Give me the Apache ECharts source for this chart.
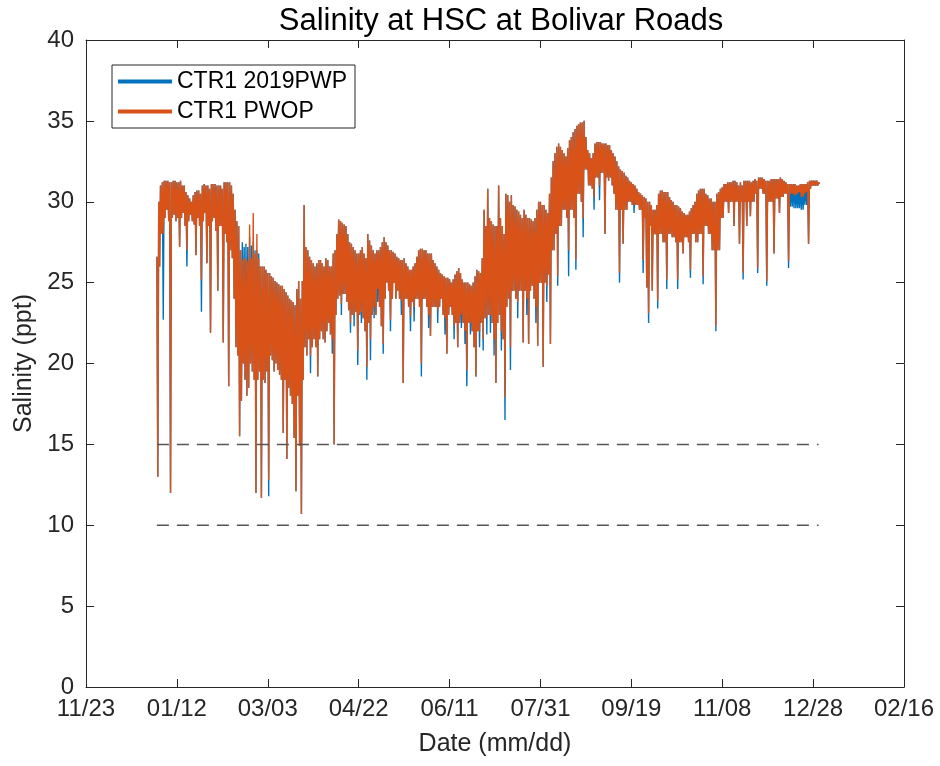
<!DOCTYPE html>
<html>
<head>
<meta charset="utf-8">
<script src="https://cdn.jsdelivr.net/npm/echarts@6/dist/echarts.min.js"></script>
<style>
  html, body { margin: 0; padding: 0; background: #fff; }
  #chart { width: 940px; height: 766px; }
</style>
</head>
<body>
<div id="chart"></div>
<script>
// x axis: days counted from 11/23 (2018); ticks every 50 days
const xTickLabels = ['11/23','01/12','03/03','04/22','06/11','07/31','09/19','11/08','12/28','02/16'];
const yTickValues = [0, 5, 10, 15, 20, 25, 30, 35, 40];
const firstDay = 39;   // 01/01 as day offset from 11/23
const lastDay = 403;   // 12/31
const thresholdLevels = [15, 10];
const seriesNames = ['CTR1 2019PWP', 'CTR1 PWOP'];

// daily high-tide / low-tide salinity readings (ppt), 01/01 .. 12/31
const pwopHigh = [
  26.6, 30.0, 31.0, 31.2, 31.3, 31.3, 31.3, 31.2, 31.2, 31.3,
  31.3, 31.2, 31.2, 31.3, 31.0, 31.0, 30.6, 30.4, 30.2, 30.0,
  30.4, 30.6, 30.7, 30.7, 30.5, 31.0, 31.1, 31.0, 31.0, 30.8,
  31.1, 31.1, 31.1, 31.0, 31.0, 31.0, 30.8, 31.2, 31.2, 31.2,
  31.2, 31.0, 30.5, 29.5, 28.8, 28.5, 27.0, 26.4, 26.5, 26.5,
  26.3, 28.6, 26.5, 29.3, 26.8, 28.0, 26.5, 26.0, 26.0, 26.0,
  25.8, 25.6, 25.6, 25.4, 25.3, 25.1, 25.0, 24.9, 24.8, 24.8,
  24.6, 24.4, 24.2, 24.0, 23.9, 23.8, 23.6, 24.6, 25.1, 24.0,
  25.1, 29.8, 27.2, 27.0, 26.6, 26.4, 26.2, 26.0, 26.2, 26.4,
  26.4, 26.2, 26.0, 26.5, 26.4, 26.0, 26.0, 26.8, 27.0, 28.0,
  28.9, 28.8, 28.7, 28.6, 28.5, 28.0, 27.5, 27.4, 27.2, 27.0,
  26.8, 26.8, 27.0, 27.2, 26.8, 26.5, 28.0, 27.6, 27.3, 27.0,
  26.8, 27.0, 27.0, 27.2, 27.5, 27.8, 27.5, 27.3, 27.0, 27.0,
  26.9, 26.8, 26.6, 26.5, 26.4, 26.4, 26.5, 26.2, 26.0, 25.8,
  25.8, 26.0, 26.2, 26.6, 27.0, 27.1, 27.1, 27.0, 27.0, 26.8,
  26.8, 26.8, 26.4, 26.2, 26.0, 25.8, 25.6, 25.5, 25.4, 25.3,
  25.3, 25.2, 25.0, 25.2, 25.5, 25.7, 25.9, 25.6, 25.2, 25.0,
  25.0, 25.0, 24.9, 24.8, 25.0, 25.4, 25.8, 25.7, 25.6, 26.5,
  29.5, 28.5, 30.8, 29.0, 28.8, 28.6, 28.5, 28.5, 31.0, 29.0,
  28.5, 28.0, 30.5, 30.4, 30.0, 30.4, 29.8, 29.7, 29.5, 29.4,
  29.2, 29.0, 29.5, 29.2, 29.0, 29.0, 28.9, 28.8, 29.0, 29.5,
  30.0, 30.0, 29.8, 29.8, 29.5, 29.3, 30.5, 31.5, 32.5, 33.0,
  33.4, 33.6, 33.4, 33.2, 33.0, 32.8, 33.3, 33.8, 34.0, 34.3,
  34.5, 34.7, 34.8, 34.9, 34.9, 35.0, 34.0, 33.2, 33.0, 32.7,
  33.0, 33.6, 33.7, 33.7, 33.7, 33.6, 33.6, 33.6, 33.5, 33.5,
  33.2, 33.0, 32.8, 32.5, 32.2, 32.0, 31.9, 31.8, 31.6, 31.5,
  31.3, 31.2, 31.1, 31.0, 30.8, 30.6, 30.5, 30.4, 30.3, 30.2,
  30.0, 30.0, 29.8, 29.5, 29.5, 29.8, 30.5, 30.7, 30.7, 30.6,
  30.6, 30.6, 30.3, 30.1, 30.0, 29.8, 29.8, 29.7, 29.6, 29.4,
  29.3, 29.2, 29.2, 29.4, 29.6, 29.8, 30.0, 30.5, 30.7, 30.8,
  30.8, 30.8, 30.5, 30.4, 30.2, 30.2, 30.0, 30.0, 30.5, 30.6,
  30.8, 30.9, 31.1, 31.1, 31.2, 31.2, 31.2, 31.3, 31.3, 31.2,
  31.0, 31.2, 31.0, 31.3, 31.3, 31.3, 31.3, 31.2, 31.3, 31.4,
  31.3, 31.5, 31.5, 31.5, 31.4, 31.3, 31.3, 31.3, 31.4, 31.4,
  31.4, 31.4, 31.4, 31.5, 31.4, 31.3, 31.2, 31.1, 31.1, 31.1,
  31.1, 31.1, 31.0, 31.0, 31.1, 31.1, 31.1, 31.1, 31.2, 31.3,
  31.3, 31.3, 31.3, 31.3, 31.2
];
const pwopLow = [
  13.0, 26.0, 28.0, 28.0, 29.0, 29.5, 28.8, 12.0, 29.0, 29.2,
  28.8, 29.0, 27.2, 29.0, 29.3, 28.5, 27.0, 28.8, 29.2, 28.8,
  28.6, 26.7, 29.0, 28.5, 25.2, 28.8, 29.3, 26.2, 28.5, 21.9,
  28.8, 29.0, 28.2, 24.5, 28.5, 28.5, 21.3, 28.0, 27.5, 18.6,
  27.0, 26.5, 24.0, 21.0, 20.5, 15.5, 17.7, 20.0, 19.0, 18.0,
  18.5, 20.0, 19.5, 19.0, 12.0, 19.0, 19.5, 11.7, 19.0, 18.8,
  19.5, 12.8, 20.5, 20.2, 19.5, 20.0, 19.6, 19.3, 19.0, 15.7,
  19.0, 14.1, 18.5, 18.0, 17.5, 15.4, 12.1, 18.0, 14.9, 10.7,
  19.0, 21.0, 20.5, 21.5, 20.5, 21.0, 21.5, 21.0, 19.2, 21.5,
  22.0, 21.5, 21.3, 22.0, 22.5, 21.8, 21.5, 15.0, 23.0, 24.0,
  24.2, 23.7, 24.3, 24.3, 23.8, 23.3, 22.5, 23.0, 23.0, 23.2,
  20.8, 23.0, 23.2, 22.8, 22.0, 19.8, 22.5, 21.5, 23.0, 23.5,
  23.0, 24.6, 23.5, 22.3, 21.2, 24.0, 25.0, 24.5, 22.7, 24.0,
  25.0, 24.0, 24.5, 24.0, 23.9, 18.8, 24.0, 24.0, 23.5, 22.9,
  23.8, 23.5, 24.0, 24.0, 23.5, 20.0, 24.0, 24.0, 23.5, 23.0,
  21.7, 23.5, 23.5, 23.5, 23.3, 23.5, 24.0, 23.0, 22.8, 20.6,
  23.0, 23.5, 23.0, 22.3, 22.5, 21.0, 22.5, 23.0, 22.5, 22.0,
  19.6, 22.5, 22.5, 22.0, 21.0, 19.2, 22.0, 22.0, 22.5, 21.5,
  22.8, 22.8, 23.0, 23.0, 22.5, 21.5, 18.8, 22.5, 23.0, 22.0,
  21.5, 17.9, 23.5, 24.0, 21.0, 24.5, 24.5, 24.0, 23.8, 24.5,
  24.5, 21.3, 24.5, 24.0, 21.2, 24.5, 24.8, 24.0, 23.5, 21.1,
  25.0, 25.0, 19.8, 25.0, 24.8, 25.5, 21.2, 27.0, 27.0, 28.0,
  25.4, 28.5, 28.5, 29.5, 29.5, 29.0, 27.0, 29.5, 29.5, 29.0,
  26.4, 30.5, 30.5, 30.0, 29.0, 32.0, 32.0, 31.0, 31.0, 30.8,
  30.3, 31.5, 31.5, 31.0, 31.8, 31.8, 28.0, 31.5, 31.3, 31.5,
  31.0, 30.5, 29.5, 29.5, 25.6, 29.5, 27.4, 29.5, 29.5, 30.0,
  30.0, 29.8, 29.8, 29.8, 29.8, 29.5, 29.5, 26.4, 29.0, 24.7,
  23.1, 28.5, 24.5, 28.0, 28.0, 23.9, 28.0, 28.0, 27.5, 27.5,
  25.2, 28.0, 28.0, 27.8, 27.8, 27.5, 25.2, 27.5, 27.5, 26.8,
  27.8, 27.8, 27.5, 25.8, 28.0, 28.0, 27.5, 27.5, 28.0, 28.0,
  25.4, 28.5, 28.5, 28.0, 28.0, 27.0, 27.0, 22.3, 27.0, 27.0,
  29.0, 29.0, 30.0, 30.0, 29.3, 30.0, 30.0, 28.5, 30.0, 30.0,
  27.4, 30.0, 25.6, 30.0, 28.5, 30.0, 29.1, 30.0, 30.0, 30.5,
  25.9, 30.8, 30.8, 30.5, 30.5, 25.1, 30.0, 30.0, 30.0, 26.8,
  30.2, 30.2, 29.3, 30.3, 30.3, 30.5, 30.5, 26.3, 30.5, 30.5,
  30.4, 30.4, 30.5, 30.6, 30.3, 30.3, 30.5, 30.6, 27.4, 30.8,
  31.0, 31.0, 31.0, 31.0, 31.1
];
const pwpHigh = [
  26.6, 30.0, 31.0, 31.2, 31.3, 31.3, 31.3, 31.2, 31.2, 31.3,
  31.3, 31.2, 31.2, 31.3, 31.0, 31.0, 30.6, 30.4, 30.2, 30.0,
  30.4, 30.6, 30.7, 30.7, 30.5, 31.0, 31.1, 31.0, 31.0, 30.8,
  31.1, 31.1, 31.1, 31.0, 31.0, 31.0, 30.8, 31.2, 31.2, 31.2,
  31.2, 31.0, 30.5, 29.5, 28.8, 28.5, 27.0, 27.5, 27.2, 27.4,
  27.2, 27.8, 27.3, 27.5, 27.0, 27.0, 26.8, 26.0, 26.0, 26.0,
  25.8, 25.6, 25.6, 25.4, 25.3, 25.1, 25.0, 24.9, 24.8, 24.8,
  24.6, 24.4, 24.2, 24.0, 23.9, 23.8, 23.6, 24.6, 25.1, 24.0,
  25.1, 29.8, 27.2, 27.0, 26.6, 26.4, 26.2, 26.0, 26.2, 26.4,
  26.4, 26.2, 26.0, 26.5, 26.4, 26.0, 26.0, 26.8, 27.0, 28.0,
  28.9, 28.8, 28.7, 28.6, 28.5, 28.0, 27.5, 27.4, 27.2, 27.0,
  26.8, 26.8, 27.0, 27.2, 26.8, 26.5, 28.0, 27.6, 27.3, 27.0,
  26.8, 27.0, 27.0, 27.2, 27.5, 27.8, 27.5, 27.3, 27.0, 27.0,
  26.9, 26.8, 26.6, 26.5, 26.4, 26.4, 26.5, 26.2, 26.0, 25.8,
  25.8, 26.0, 26.2, 26.6, 27.0, 27.1, 27.1, 27.0, 27.0, 26.8,
  26.8, 26.8, 26.4, 26.2, 26.0, 25.8, 25.6, 25.5, 25.4, 25.3,
  25.3, 25.2, 25.0, 25.2, 25.5, 25.7, 25.9, 25.6, 25.2, 25.0,
  25.0, 25.0, 24.9, 24.8, 25.0, 25.4, 25.8, 25.7, 25.6, 26.5,
  29.5, 28.5, 30.8, 29.0, 28.8, 28.6, 28.5, 28.5, 31.0, 29.0,
  28.5, 28.0, 30.5, 30.4, 30.0, 30.4, 29.8, 29.7, 29.5, 29.4,
  29.2, 29.0, 29.5, 29.2, 29.0, 29.0, 28.9, 28.8, 29.0, 29.5,
  30.0, 30.0, 29.8, 29.8, 29.5, 29.3, 30.5, 31.5, 32.5, 33.0,
  33.4, 33.6, 33.4, 33.2, 33.0, 32.8, 33.3, 33.8, 34.0, 34.3,
  34.5, 34.7, 34.8, 34.9, 34.9, 35.0, 34.0, 33.2, 33.0, 32.7,
  33.0, 33.6, 33.7, 33.7, 33.7, 33.6, 33.6, 33.6, 33.5, 33.5,
  33.2, 33.0, 32.8, 32.5, 32.2, 32.0, 31.9, 31.8, 31.6, 31.5,
  31.3, 31.2, 31.1, 31.0, 30.8, 30.6, 30.5, 30.4, 30.3, 30.2,
  30.0, 30.0, 29.8, 29.5, 29.5, 29.8, 30.5, 30.7, 30.7, 30.6,
  30.6, 30.6, 30.3, 30.1, 30.0, 29.8, 29.8, 29.7, 29.6, 29.4,
  29.3, 29.2, 29.2, 29.4, 29.6, 29.8, 30.0, 30.5, 30.7, 30.8,
  30.8, 30.8, 30.5, 30.4, 30.2, 30.2, 30.0, 30.0, 30.5, 30.6,
  30.8, 30.9, 31.1, 31.1, 31.2, 31.2, 31.2, 31.3, 31.3, 31.2,
  31.0, 31.2, 31.0, 31.3, 31.3, 31.3, 31.3, 31.2, 31.3, 31.4,
  31.3, 31.5, 31.5, 31.5, 31.4, 31.3, 31.3, 31.3, 31.4, 31.4,
  31.4, 31.4, 31.4, 31.5, 31.4, 31.3, 31.2, 31.1, 31.1, 31.1,
  31.1, 31.1, 31.0, 31.0, 31.1, 31.1, 31.1, 31.1, 31.2, 31.3,
  31.3, 31.3, 31.3, 31.3, 31.2
];
const pwpLow = [
  13.0, 26.0, 28.0, 22.7, 29.0, 29.5, 28.8, 12.0, 29.0, 29.2,
  28.8, 29.0, 27.2, 29.0, 29.3, 28.5, 26.0, 28.8, 29.2, 28.8,
  28.6, 26.7, 29.0, 28.5, 23.2, 28.8, 29.3, 26.2, 28.5, 21.9,
  28.8, 29.0, 28.2, 24.5, 28.5, 28.5, 21.3, 28.0, 27.5, 18.6,
  27.0, 26.5, 24.0, 21.0, 20.5, 15.5, 17.7, 20.0, 19.0, 18.0,
  18.5, 20.0, 19.5, 19.0, 12.0, 19.0, 19.5, 11.7, 19.0, 18.8,
  19.5, 11.8, 20.5, 20.2, 19.5, 20.0, 19.6, 19.3, 19.0, 15.7,
  19.0, 14.1, 18.5, 18.0, 17.5, 15.4, 12.1, 18.0, 14.9, 10.7,
  19.0, 21.0, 20.5, 21.5, 19.4, 21.0, 21.5, 21.0, 19.2, 21.5,
  22.0, 21.5, 21.3, 22.0, 22.5, 21.8, 20.6, 15.0, 23.0, 24.0,
  24.2, 23.0, 24.3, 24.3, 23.8, 23.3, 21.9, 23.0, 22.3, 23.2,
  19.9, 23.0, 22.5, 22.8, 22.0, 19.0, 22.5, 20.2, 23.0, 22.8,
  23.0, 23.8, 23.5, 22.3, 20.6, 24.0, 25.0, 24.5, 22.0, 24.0,
  25.0, 24.0, 24.5, 24.0, 23.0, 18.8, 24.0, 24.0, 23.5, 22.0,
  23.8, 22.6, 24.0, 24.0, 23.5, 19.2, 24.0, 24.0, 23.5, 22.2,
  21.7, 23.5, 23.5, 23.5, 22.5, 23.5, 24.0, 23.0, 21.8, 20.6,
  23.0, 23.5, 23.0, 21.5, 22.5, 21.0, 22.5, 22.2, 22.5, 21.2,
  18.6, 22.5, 21.8, 22.0, 21.0, 19.2, 22.0, 21.0, 22.5, 20.8,
  22.8, 21.8, 23.0, 21.9, 22.5, 20.5, 18.8, 22.5, 23.0, 20.8,
  21.5, 16.5, 23.5, 24.0, 19.6, 24.5, 24.5, 24.0, 22.8, 24.5,
  24.5, 21.3, 24.5, 23.0, 21.2, 24.5, 24.8, 24.0, 22.5, 21.1,
  25.0, 25.0, 19.8, 25.0, 23.8, 25.5, 21.2, 27.0, 27.0, 28.0,
  24.8, 28.5, 28.5, 29.5, 29.5, 29.0, 25.4, 29.5, 29.5, 29.0,
  25.8, 30.5, 30.5, 30.0, 27.8, 32.0, 32.0, 31.0, 31.0, 30.8,
  29.5, 31.5, 31.5, 30.1, 31.8, 31.8, 28.0, 31.5, 31.3, 31.5,
  31.0, 30.5, 29.5, 29.5, 25.0, 29.5, 27.4, 29.5, 29.5, 30.0,
  30.0, 29.8, 29.3, 29.8, 29.8, 29.5, 29.5, 25.6, 29.0, 24.7,
  22.5, 28.5, 24.5, 28.0, 28.0, 23.4, 28.0, 28.0, 27.5, 27.5,
  24.6, 28.0, 28.0, 27.8, 27.8, 27.5, 24.6, 27.5, 27.5, 26.8,
  27.8, 27.8, 27.5, 25.3, 28.0, 28.0, 27.5, 27.5, 28.0, 28.0,
  24.9, 28.5, 28.5, 28.0, 28.0, 27.0, 27.0, 22.0, 27.0, 27.0,
  29.0, 29.0, 30.0, 30.0, 29.3, 30.0, 30.0, 28.5, 30.0, 30.0,
  27.4, 30.0, 25.2, 30.0, 28.5, 30.0, 29.1, 30.0, 30.0, 30.5,
  25.6, 30.8, 30.8, 30.5, 30.5, 24.8, 30.0, 30.0, 30.0, 26.8,
  30.2, 30.2, 29.3, 30.3, 30.3, 30.5, 30.5, 25.9, 29.7, 29.7,
  29.6, 29.6, 29.6, 29.6, 29.5, 29.5, 29.8, 29.8, 27.4, 30.8,
  31.0, 31.0, 31.0, 31.0, 31.1
];

// interleave the daily high and low readings (high at start of day, low at mid-day)
function toPairs(high, low) {
  const out = [];
  for (let i = 0; i < high.length; i++) {
    out.push([firstDay + i, high[i]]);
    out.push([firstDay + i + 0.5, low[i]]);
  }
  return out;
}

const axisColor = '#262626';
const fontFamily = '"Liberation Sans", Arial, Helvetica, sans-serif';

const chart = echarts.init(document.getElementById('chart'), null, { renderer: 'canvas' });

const baseX = {
  type: 'value', min: 0, max: 450, interval: 50,
  splitLine: { show: false },
  axisLine: { show: true, onZero: false, lineStyle: { color: axisColor, width: 1 } },
  axisTick: { show: true, inside: true, length: 8, lineStyle: { color: axisColor } }
};
const baseY = {
  type: 'value', min: yTickValues[0], max: yTickValues[yTickValues.length - 1], interval: 5,
  splitLine: { show: false },
  axisLine: { show: true, onZero: false, lineStyle: { color: axisColor, width: 1 } },
  axisTick: { show: true, inside: true, length: 8, lineStyle: { color: axisColor } }
};

const option = {
  animation: false,
  backgroundColor: '#fff',
  textStyle: { fontFamily: fontFamily },
  title: {
    text: 'Salinity at HSC at Bolivar Roads',
    left: 496, textAlign: 'center', top: 1,
    textStyle: { fontSize: 31, fontWeight: 'normal', color: '#000', fontFamily: fontFamily }
  },
  grid: { left: 86, right: 36, top: 40, bottom: 79, containLabel: false },
  legend: {
    data: seriesNames,
    orient: 'vertical',
    left: 112, top: 65,
    icon: 'rect', itemWidth: 54, itemHeight: 4, itemGap: 7,
    padding: [5, 8, 5, 6],
    borderColor: axisColor, borderWidth: 1,
    backgroundColor: '#fff',
    textStyle: { fontSize: 23, color: '#000', fontFamily: fontFamily }
  },
  xAxis: [
    Object.assign({}, baseX, {
      position: 'bottom',
      axisLabel: {
        fontSize: 24, color: axisColor, margin: 10, fontFamily: fontFamily,
        formatter: v => xTickLabels[Math.round(v / 50)]
      },
      name: 'Date (mm/dd)', nameLocation: 'middle', nameGap: 45,
      nameTextStyle: { fontSize: 25, color: axisColor, fontFamily: fontFamily }
    }),
    Object.assign({}, baseX, { position: 'top', axisLabel: { show: false } })
  ],
  yAxis: [
    Object.assign({}, baseY, {
      position: 'left',
      axisLabel: { fontSize: 24, color: axisColor, margin: 12, fontFamily: fontFamily },
      name: 'Salinity (ppt)', nameLocation: 'middle', nameGap: 46,
      nameTextStyle: { fontSize: 25, color: axisColor, fontFamily: fontFamily }
    }),
    Object.assign({}, baseY, { position: 'right', axisLabel: { show: false } })
  ],
  series: [
    {
      name: seriesNames[0], type: 'line', xAxisIndex: 0, yAxisIndex: 0,
      data: toPairs(pwpHigh, pwpLow), showSymbol: false, symbol: 'none',
      lineStyle: { color: '#0072BD', width: 1.4 }, itemStyle: { color: '#0072BD' },
      z: 2
    },
    {
      name: seriesNames[1], type: 'line', xAxisIndex: 0, yAxisIndex: 0,
      data: toPairs(pwopHigh, pwopLow), showSymbol: false, symbol: 'none',
      lineStyle: { color: '#D95319', width: 1.4 }, itemStyle: { color: '#D95319' },
      z: 3
    }
  ].concat(thresholdLevels.map((lvl, k) => ({
    name: 'threshold' + k, type: 'line', xAxisIndex: 0, yAxisIndex: 0,
    data: [[firstDay, lvl], [lastDay, lvl]], showSymbol: false, symbol: 'none',
    lineStyle: { color: '#555555', width: 1.5, type: [12, 8] },
    z: 4, silent: true
  })))
};

chart.setOption(option);
</script>
</body>
</html>
